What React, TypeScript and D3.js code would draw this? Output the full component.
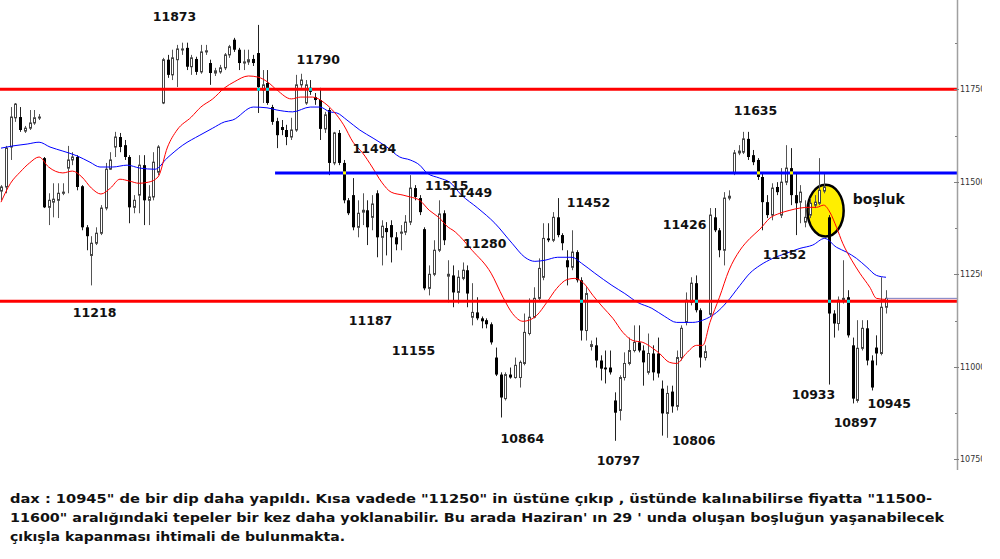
import React from 'react';
import * as d3 from 'd3';

// ---- OHLC data (DAX) ----
const opens = [11475,11486,11594,11673,11675,11637,11645,11659,11673,11564,
11431,11445,11450,11469,11537,11559,11567,11488,11377,11301,
11334,11361,11429,11534,11594,11621,11599,11567,11431,11464,
11545,11450,11459,11526,11713,11830,11789,11830,11857,11862,
11811,11832,11797,11851,11821,11794,11797,11808,11843,11884,
11857,11821,11824,11832,11848,11748,11767,11702,11664,11648,
11640,11621,11640,11762,11713,11754,11729,11721,11643,11694,
11551,11632,11551,11450,11464,11377,11418,11423,11404,11469,
11350,11375,11383,11350,11361,11364,11391,11483,11456,11372,
11212,11250,11315,11415,11245,11247,11201,11239,11261,11134,
11147,11131,11126,11115,11025,10979,10914,10979,10971,10971,
11009,11090,11134,11185,11242,11347,11342,11404,11356,11288,
11269,11310,11234,11098,11055,11058,11017,10998,10998,10909,
10882,10971,11009,11044,11066,11044,10985,11036,11036,10941,
10874,10933,10893,11025,11120,11174,11226,11153,11025,11142,
11404,11369,11315,11456,11524,11578,11580,11616,11572,11559,
11513,11445,11410,11486,11410,11499,11537,11464,11445,11391,
11410,11437,11442,11475,11404,11144,11117,11180,11188,11058,
10909,11050,11104,11017,11052,11036,11161];

const highs = [11491,11597,11702,11713,11702,11651,11694,11694,11683,11567,
11469,11496,11496,11496,11597,11580,11572,11491,11383,11353,
11377,11437,11551,11580,11635,11632,11613,11572,11464,11572,
11572,11491,11580,11599,11835,11843,11857,11870,11876,11876,
11843,11838,11870,11870,11830,11808,11816,11848,11870,11889,
11862,11857,11857,11843,11924,11802,11802,11708,11673,11667,
11654,11673,11789,11792,11775,11775,11740,11754,11689,11700,
11635,11640,11559,11456,11510,11450,11469,11450,11464,11477,
11396,11391,11396,11364,11383,11410,11518,11491,11464,11377,
11274,11342,11450,11423,11288,11274,11261,11282,11274,11226,
11188,11136,11131,11120,11052,10985,10985,10998,11025,11017,
11144,11185,11215,11293,11388,11388,11418,11456,11361,11315,
11369,11315,11242,11215,11071,11079,11031,11044,11044,10931,
10977,11039,11079,11112,11112,11058,11090,11058,11079,10963,
10949,10949,11044,11112,11201,11242,11247,11158,11058,11429,
11429,11375,11472,11477,11586,11599,11635,11635,11586,11564,
11526,11464,11496,11499,11537,11599,11591,11524,11491,11450,
11456,11464,11564,11526,11410,11153,11190,11288,11207,11079,
11126,11126,11126,11031,11085,11242,11207];

const lows = [11450,11469,11559,11662,11635,11632,11640,11654,11667,11429,
11383,11404,11402,11464,11469,11545,11477,11369,11315,11220,
11329,11356,11423,11532,11567,11580,11559,11388,11415,11415,
11383,11383,11450,11518,11710,11781,11775,11756,11843,11802,
11789,11789,11792,11843,11762,11786,11792,11802,11835,11851,
11802,11802,11816,11813,11686,11713,11708,11654,11591,11626,
11599,11613,11635,11754,11708,11735,11708,11613,11632,11518,
11545,11545,11442,11410,11369,11350,11383,11329,11369,11296,
11274,11301,11282,11315,11315,11356,11383,11450,11410,11207,
11193,11245,11310,11329,11174,11161,11171,11234,11161,11112,
11126,11104,11104,11060,10975,10863,10909,10968,10968,10944,
11004,11085,11131,11180,11234,11337,11337,11350,11315,11220,
11261,11228,11071,11071,11044,10998,10963,10955,10979,10800,
10855,10963,11004,11039,11039,10949,10979,10963,10971,10814,
10808,10876,10882,11017,11112,11166,11147,10998,11017,11136,
11364,11296,11274,11450,11518,11572,11575,11559,11545,11505,
11369,11402,11396,11464,11402,11491,11437,11356,11388,11377,
11402,11429,11437,11469,10952,11079,11098,11171,11079,10901,
10903,11044,11004,10936,11004,11031,11144];

const closes = [11486,11591,11675,11710,11640,11645,11659,11673,11675,11431,
11450,11453,11469,11472,11559,11567,11486,11377,11353,11334,
11361,11429,11534,11559,11621,11594,11567,11431,11450,11545,
11450,11459,11553,11594,11830,11789,11835,11859,11859,11811,
11835,11797,11851,11854,11794,11800,11808,11843,11865,11857,
11821,11824,11830,11821,11756,11762,11713,11662,11626,11640,
11621,11640,11762,11775,11762,11743,11721,11643,11681,11551,
11632,11551,11450,11415,11377,11415,11423,11377,11440,11350,
11380,11364,11350,11331,11364,11391,11483,11459,11418,11212,
11250,11315,11413,11342,11250,11201,11242,11261,11198,11147,
11131,11123,11115,11066,10979,10917,10979,10971,11004,11012,
11093,11134,11185,11266,11347,11342,11404,11356,11334,11269,
11310,11234,11098,11198,11060,11017,10995,10993,10985,10876,
10971,11009,11044,11066,11044,11012,11036,10985,10982,10874,
10928,10893,11025,11104,11180,11226,11153,11025,11041,11410,
11369,11315,11456,11461,11578,11583,11616,11567,11553,11513,
11445,11410,11483,11472,11499,11537,11464,11442,11472,11404,
11442,11445,11477,11486,11144,11117,11180,11185,11085,10914,
11050,11104,11017,10944,11036,11161,11185];

// ---- moving averages (bar index, price) ----
const fastMaIdx = [0,2,4,6,8,10,13,15,17,19,21,23,25,27,29,31,33,35,37,40,42,44.5,47,49,52,54,56,58,61,63,65.5,68,70,72,74,76,78,80,82,84.5,86,88,90,92,94,95,99,103,105.5,107.5,109.7,111,112.6,114.7,116.8,119,120.6,122.3,124.4,126.5,128.6,130.7,132.8,134.9,137,138.4,140.5,142,144,146.2,147.5,149,151,153,155.3,157.4,159.5,161.6,163.7,165.8,167.9,170,171.4,172.9,174.2,175.6,176.9,178.8,180.5,182.6,184,186];
const fastMaVal = [11445,11496,11526,11551,11567,11540,11524,11529,11513,11483,11467,11483,11507,11502,11496,11499,11513,11594,11640,11675,11702,11724,11754,11770,11786,11783,11770,11748,11724,11729,11729,11713,11689,11654,11607,11578,11540,11499,11472,11464,11459,11450,11423,11404,11377,11369,11315,11253,11188,11144,11123,11126,11139,11174,11212,11236,11239,11228,11193,11161,11131,11093,11071,11066,11050,11036,11012,11009,11036,11058,11058,11120,11188,11261,11315,11347,11372,11402,11415,11423,11429,11431,11431,11437,11418,11377,11334,11288,11253,11215,11185,11182];

const slowMaIdx = [0,2.5,5.5,8,10.3,13,16,18.7,20.8,23.5,26.5,29.2,32.4,34.9,38.2,41.8,44.5,47,48.7,53,55.9,58,61.3,65,67,69.1,70.6,72.7,75.4,78.2,81.1,83.8,86,88,89.5,92.2,94.3,96.8,100.2,103.8,107.4,110.1,112.2,114.3,117,120,122,124.8,128.4,131.1,133.8,136.8,139.5,142,145.4,147.5,150.4,152.5,155.3,157.4,159.5,162.2,165.1,167.9,170.6,173.1,175.6,177.7,179.8,182,184,186];
const slowMaVal = [11591,11597,11602,11607,11594,11583,11570,11553,11540,11540,11545,11537,11534,11564,11599,11626,11645,11662,11667,11702,11700,11694,11689,11702,11702,11689,11686,11667,11640,11618,11594,11567,11559,11545,11524,11510,11499,11464,11429,11388,11334,11296,11285,11288,11296,11296,11280,11253,11220,11198,11174,11158,11136,11120,11120,11126,11147,11174,11220,11253,11274,11293,11307,11320,11329,11347,11323,11310,11293,11269,11247,11242];

// ---- axis ticks ----
const yMajorTicks = [10750, 11000, 11250, 11500, 11750, 12000];
const yMinorTicks = [10875, 11125, 11375, 11625, 11875];

// ---- horizontal levels ----
const levelPrices = [11750, 11177, 11524];
const levelStartIdx = [-2, -2, 57.6];
const levelColors = ['#ff0000', '#ff0000', '#0000ff'];

// ---- price labels (text, bar index, price of baseline) ----
const labelTexts = ['11873','11790','11494','11515','11449','11452','11280','11218','11187','11155','10864','10797','11635','11426','11352','10806','10933','10945','10897'];
const labelIdx = [31.9,62.1,73.9,89.1,94.1,118.9,97.1,15.1,73.1,82.1,105,125.2,154,139.1,160.1,141,166.2,182.1,175];
const labelPrice = [11935,11819,11578,11477,11459,11431,11320,11134,11112,11031,10795,10735,11681,11372,11291,10790,10914,10890,10836];

// ---- small crossing markers ----
const markerIdx = [54,56,65,122,146,174,178,72,159,166];
const markerPrice = [11750,11750,11750,11177,11177,11177,11177,11524,11524,11524];
const markerColor = ['#00e0e0','#00e0e0','#00e0e0','#00e0e0','#00e0e0','#00e0e0','#00e0e0','#ffff00','#ffff00','#ffff00'];

// ---- gap ellipse ----
const gapCenterIdx = 173.3;
const gapCenterPrice = 11422;
const gapHalfBars = 3.8;
const gapHalfPoints = 70;
const gapLabel = 'boşluk';
const gapLabelIdx = 179;
const gapLabelPrice = 11440;

const noteLines = [
  'dax : 10945" de bir dip daha yapıldı. Kısa vadede "11250" in üstüne çıkıp , üstünde kalınabilirse fiyatta "11500-',
  '11600" aralığındaki tepeler bir kez daha yoklanabilir. Bu arada Haziran\' ın 29 \' unda oluşan boşluğun yaşanabilecek',
  'çıkışla kapanması ihtimali de bulunmakta.',
];
const noteWidths = [922, 934, 335];

export default function App() {
  const W = 1000, H = 559;
  const plotRight = 957;
  const n = opens.length;
  const xs = d3.scaleLinear().domain([0, n - 1]).range([1, 886]);
  const ys = d3.scaleLinear().domain([10750, 11750]).range([459.3, 89.3]);

  const lineGen = (idx: number[], val: number[]) =>
    d3.line<number>()
      .x((i) => xs(idx[i]))
      .y((i) => ys(val[i]))
      .curve(d3.curveMonotoneX)(d3.range(idx.length)) || '';

  const fastPath = lineGen(fastMaIdx, fastMaVal);
  const slowPath = lineGen(slowMaIdx, slowMaVal);

  const candles = d3.range(n).map((i) => {
    const cx = Math.round(xs(i));
    const o = opens[i], c = closes[i];
    const bull = c >= o;
    const yTop = ys(Math.max(o, c));
    const yBot = ys(Math.min(o, c));
    const bh = Math.max(1, yBot - yTop);
    return (
      <g key={i}>
        <line x1={cx + 0.5} x2={cx + 0.5} y1={ys(highs[i])} y2={ys(lows[i])} stroke={bull ? '#555' : '#222'} strokeWidth={1} />
        {bull ? (
          <rect x={cx - 0.5} y={yTop} width={2} height={bh} fill="#fff" stroke="#444" strokeWidth={1} />
        ) : (
          <rect x={cx - 1} y={yTop} width={3} height={bh} fill="#000" />
        )}
      </g>
    );
  });

  const lastClose = closes[n - 1];
  const labelFont = { fontFamily: '"DejaVu Sans", Verdana, sans-serif', fontWeight: 700, fontSize: 12.5 } as const;

  return (
    <svg width={W} height={H} viewBox={`0 0 ${W} ${H}`} style={{ position: 'absolute', left: 0, top: 0, background: '#fff' }}>
      <defs>
        <clipPath id="plotClip"><rect x={0} y={0} width={plotRight} height={470} /></clipPath>
        <clipPath id="axisClip"><rect x={0} y={0} width={982} height={480} /></clipPath>
      </defs>
      <rect x={0} y={0} width={W} height={H} fill="#fff" />
      <g clipPath="url(#plotClip)">
        {/* gap ellipse in background */}
        <ellipse
          cx={xs(gapCenterIdx)}
          cy={ys(gapCenterPrice)}
          rx={xs(gapHalfBars) - xs(0)}
          ry={ys(gapCenterPrice - gapHalfPoints) - ys(gapCenterPrice)}
          fill="#ffee00"
          stroke="#000"
          strokeWidth={2.5}
        />
        {candles}
        <path d={slowPath} fill="none" stroke="#0000ff" strokeWidth={1} />
        <path d={fastPath} fill="none" stroke="#ff0000" strokeWidth={1} />
        {levelPrices.map((p, k) => (
          <line key={k} x1={xs(levelStartIdx[k])} x2={plotRight} y1={ys(p)} y2={ys(p)} stroke={levelColors[k]} strokeWidth={3} />
        ))}
        <line x1={xs(n - 1)} x2={plotRight} y1={ys(lastClose)} y2={ys(lastClose)} stroke="#7a7ac0" strokeWidth={1} />
        {markerIdx.map((mi, k) => (
          <rect key={k} x={Math.round(xs(mi)) - 1} y={ys(markerPrice[k]) - 1.5} width={3} height={3} fill={markerColor[k]} />
        ))}
      </g>

      {/* price labels */}
      {labelTexts.map((t, k) => (
        <text key={k} x={xs(labelIdx[k])} y={ys(labelPrice[k])} fill="#111" style={labelFont}>{t}</text>
      ))}
      <text x={xs(gapLabelIdx)} y={ys(gapLabelPrice)} fill="#111" style={{ ...labelFont, fontSize: 14 }}>{gapLabel}</text>

      {/* right axis */}
      <g clipPath="url(#axisClip)">
        <line x1={plotRight + 0.5} x2={plotRight + 0.5} y1={0} y2={470} stroke="#a0a0a0" strokeWidth={1.5} />
        {yMinorTicks.map((t) => (
          <line key={t} x1={plotRight - 2} x2={plotRight} y1={Math.round(ys(t)) + 0.5} y2={Math.round(ys(t)) + 0.5} stroke="#808080" strokeWidth={1} />
        ))}
        {yMajorTicks.map((t) => (
          <g key={t}>
            <line x1={plotRight - 3} x2={plotRight + 2} y1={Math.round(ys(t)) + 0.5} y2={Math.round(ys(t)) + 0.5} stroke="#808080" strokeWidth={1} />
            <text x={plotRight + 3} y={ys(t)} dy="0.35em" fill="#333" style={{ fontFamily: '"DejaVu Sans", sans-serif', fontSize: 8 }}>{t}</text>
          </g>
        ))}
      </g>

      {/* commentary */}
      {noteLines.map((line, k) => (
        <text
          key={k}
          x={10}
          y={503 + k * 19}
          textLength={noteWidths[k]}
          lengthAdjust="spacingAndGlyphs"
          fill="#111"
          style={{ fontFamily: '"DejaVu Sans", Tahoma, sans-serif', fontWeight: 700, fontSize: 13 }}
        >
          {line}
        </text>
      ))}
    </svg>
  );
}
